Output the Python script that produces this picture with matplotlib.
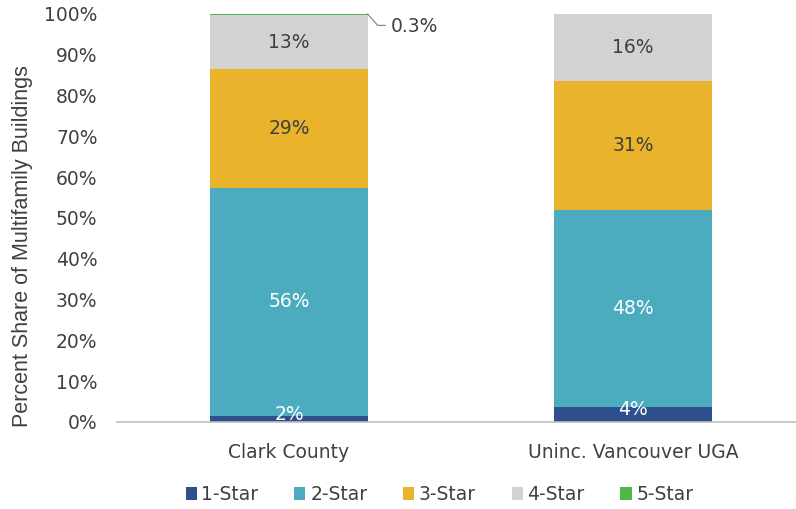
import matplotlib.pyplot as plt
import numpy as np

plt.rcParams['font.family'] = ['DejaVu Sans']

areas = ['Clark County', 'Uninc. Vancouver UGA']
series = ['1-Star', '2-Star', '3-Star', '4-Star', '5-Star']
values = {
    '1-Star': [1.5, 3.7],
    '2-Star': [55.9, 48.3],
    '3-Star': [29.1, 31.6],
    '4-Star': [13.2, 16.4],
    '5-Star': [0.3, 0.0],
}
labels = {
    '1-Star': ['2%', '4%'],
    '2-Star': ['56%', '48%'],
    '3-Star': ['29%', '31%'],
    '4-Star': ['13%', '16%'],
}
colors = ['#2E508C', '#4BACBF', '#E9B42C', '#D2D2D2', '#4DB848']
text_colors = ['white', 'white', '#404040', '#404040']

fig = plt.figure(figsize=(7.96, 5.09), dpi=100)
ax = fig.add_axes([117 / 796, 0.171, 679 / 796, 0.8015])

x = np.arange(len(areas))
bottom = np.zeros(len(areas))
for i, s in enumerate(series):
    v = np.array(values[s]) / 100
    ax.bar(x, v, 0.457, bottom=bottom, color=colors[i], label=s)
    if s in labels:
        for j in range(len(areas)):
            ax.text(x[j], bottom[j] + v[j] / 2 + (0.012 if i == 0 else 0), labels[s][j],
                    ha='center', va='center', fontsize=13.5, color=text_colors[i])
    bottom += v

# leader line for the 5-star slice on Clark County
ax.plot([0.2285, 0.258, 0.28], [1.0, 0.972, 0.972], color='#8c8c8c', lw=0.9, clip_on=False)
ax.text(0.295, 0.97, '0.3%', ha='left', va='center', fontsize=13.5, color='#404040')

ax.set_xlim(-0.5, 1.474)
ax.set_ylim(0, 1)
ax.set_yticks(np.arange(0, 1.01, 0.1))
ax.set_yticklabels([f'{int(round(t * 100))}%' for t in np.arange(0, 1.01, 0.1)])
ax.set_xticks(x)
ax.set_xticklabels(areas)
ax.tick_params(axis='both', length=0, labelsize=13.5, labelcolor='#404040')
ax.tick_params(axis='x', pad=15)
ax.tick_params(axis='y', pad=14)
for side in ['top', 'right', 'left']:
    ax.spines[side].set_visible(False)
ax.spines['bottom'].set_color('#bfbfbf')
ax.spines['bottom'].set_linewidth(1.2)

ax.set_ylabel('Percent Share of Multifamily Buildings', fontsize=15.5,
              color='#404040', family=['Liberation Sans', 'DejaVu Sans'])
ax.yaxis.set_label_coords(-0.123, 0.43)

ax.legend(loc='upper center', bbox_to_anchor=(0.475, -0.113), ncol=5, frameon=False,
          fontsize=13.5, handlelength=0.6, handleheight=0.7, handletextpad=0.25,
          columnspacing=1.9, labelcolor='#404040')

fig.savefig('out.png', dpi=100)
